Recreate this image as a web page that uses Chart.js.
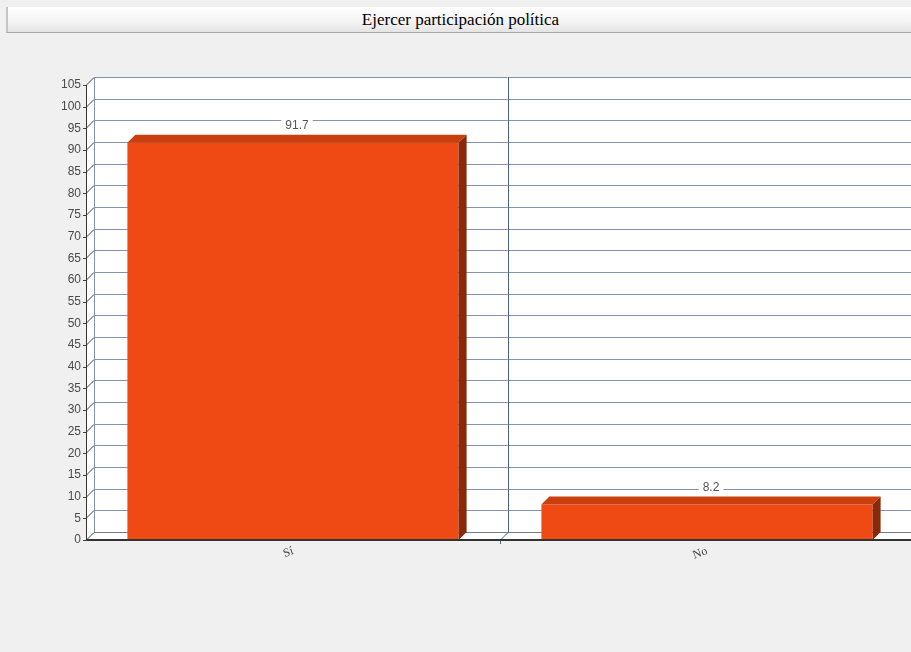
<!DOCTYPE html>
<html>
<head>
<meta charset="utf-8">
<script src="https://cdn.jsdelivr.net/npm/chart.js@4"></script>
<style>
  html, body { margin: 0; padding: 0; background: #f0f0f0; overflow: hidden; }
  #wrap { position: relative; width: 920px; height: 652px; }
  #titlebar {
    position: absolute; left: 6px; top: 7px; width: 905px; height: 25px;
    background: linear-gradient(#ffffff, #f4f4f4 60%, #e4e4e4);
    border-left: 2px solid #c4c4c4; border-bottom: 1px solid #a8a8a8;
    font: 17px "Liberation Serif", serif; color: #000;
    text-align: center; line-height: 25px; z-index: 2;
  }
  #myChart { position: absolute; left: 0; top: 0; }
</style>
</head>
<body>
<div id="wrap">
  <div id="titlebar">Ejercer participación política</div>
  <canvas id="myChart" width="920" height="652"></canvas>
</div>
<script>
"use strict";

// data
var categories = ["Sí", "No"];
var values = [91.7, 8.2];
var yTicks = [0, 5, 10, 15, 20, 25, 30, 35, 40, 45, 50, 55, 60, 65, 70, 75, 80, 85, 90, 95, 100, 105];

var DEPTH = 8;

// walls, grid and axes in fake 3D
var wallPlugin = {
    id: "wall3d",
    beforeDatasetsDraw: function (chart) {
        var ctx = chart.ctx;
        var a = chart.chartArea;
        var ys = chart.scales.y;
        var xs = chart.scales.x;
        var L = a.left, R = a.right, T = a.top, B = a.bottom, d = DEPTH;
        ctx.save();
        // white wall + floor
        ctx.fillStyle = "#ffffff";
        ctx.beginPath();
        ctx.moveTo(L, T);
        ctx.lineTo(L + d, T - d);
        ctx.lineTo(R + d, T - d);
        ctx.lineTo(R + d, B - d);
        ctx.lineTo(R, B);
        ctx.lineTo(L, B);
        ctx.closePath();
        ctx.fill();

        // horizontal grid on the back wall
        ctx.lineWidth = 1;
        yTicks.forEach(function (v) {
            var y = Math.round(ys.getPixelForValue(v)) + 0.5;
            ctx.strokeStyle = v === 0 ? "#707a88" : "#8294ab";
            ctx.beginPath();
            ctx.moveTo(L + d, y - d);
            ctx.lineTo(R + d, y - d);
            ctx.stroke();
            // tick + diagonal to the wall
            ctx.strokeStyle = "#404040";
            ctx.beginPath();
            ctx.moveTo(L - 3, y);
            ctx.lineTo(L, y);
            ctx.lineTo(L + d, y - d);
            ctx.stroke();
        });

        // back wall left edge
        ctx.strokeStyle = "#8294ab";
        ctx.beginPath();
        ctx.moveTo(L + d + 0.5, T - d);
        ctx.lineTo(L + d + 0.5, B - d);
        ctx.stroke();

        // category dividers
        ctx.strokeStyle = "#4a6284";
        for (var i = 1; i < categories.length; i++) {
            var xm = Math.round((xs.getPixelForValue(i - 1) + xs.getPixelForValue(i)) / 2) + 0.5;
            ctx.beginPath();
            ctx.moveTo(xm + d, T - d);
            ctx.lineTo(xm + d, B - d);
            ctx.lineTo(xm, B);
            ctx.lineTo(xm, B + 4);
            ctx.stroke();
        }

        // front axes
        ctx.strokeStyle = "#333333";
        ctx.beginPath();
        ctx.moveTo(L + 0.5, T);
        ctx.lineTo(L + 0.5, B);
        ctx.stroke();
        ctx.lineWidth = 2;
        ctx.beginPath();
        ctx.moveTo(L, B);
        ctx.lineTo(R + d, B);
        ctx.stroke();
        ctx.restore();
    },
    afterDatasetsDraw: function (chart) {
        var ctx = chart.ctx;
        var d = DEPTH;
        var meta = chart.getDatasetMeta(0);
        ctx.save();
        meta.data.forEach(function (bar, i) {
            var x0 = bar.x - bar.width / 2;
            var x1 = bar.x + bar.width / 2;
            var y = bar.y, base = bar.base;
            // top face
            ctx.fillStyle = "#c93f0d";
            ctx.beginPath();
            ctx.moveTo(x0, y);
            ctx.lineTo(x0 + d, y - d);
            ctx.lineTo(x1 + d, y - d);
            ctx.lineTo(x1, y);
            ctx.closePath();
            ctx.fill();
            // side face
            ctx.fillStyle = "#88290a";
            ctx.beginPath();
            ctx.moveTo(x1, y);
            ctx.lineTo(x1 + d, y - d);
            ctx.lineTo(x1 + d, base - d);
            ctx.lineTo(x1, base);
            ctx.closePath();
            ctx.fill();

            // value label with white box
            var txt = String(values[i]);
            ctx.font = "12px 'Liberation Sans', sans-serif";
            var w = ctx.measureText(txt).width;
            var cx = bar.x + 4, cy = y - d - 9;
            ctx.fillStyle = "#ffffff";
            ctx.fillRect(cx - w / 2 - 4, cy - 7, w + 8, 14);
            ctx.fillStyle = "#555555";
            ctx.textAlign = "center";
            ctx.textBaseline = "middle";
            ctx.fillText(txt, cx, cy);
        });
        // redraw front bottom axis over the bars
        ctx.strokeStyle = "#333333";
        ctx.lineWidth = 2;
        ctx.beginPath();
        ctx.moveTo(chart.chartArea.left, chart.chartArea.bottom);
        ctx.lineTo(chart.chartArea.right + d, chart.chartArea.bottom);
        ctx.stroke();
        ctx.restore();
    }
};

var ctx = document.getElementById("myChart").getContext("2d");
var chart = new Chart(ctx, {
    type: "bar",
    data: {
        labels: categories,
        datasets: [{
            data: values,
            backgroundColor: "#ef4a13",
            borderWidth: 0,
            categoryPercentage: 0.8,
            barPercentage: 1.0
        }]
    },
    options: {
        responsive: false,
        animation: false,
        layout: { padding: { top: 85, right: 6, left: 0, bottom: 0 } },
        plugins: {
            legend: { display: false },
            tooltip: { enabled: false }
        },
        scales: {
            y: {
                min: 0,
                max: 105,
                afterFit: function (scale) { scale.width = 86; },
                afterBuildTicks: function (scale) {
                    scale.ticks = yTicks.map(function (v) { return { value: v }; });
                },
                grid: { display: false, drawTicks: false },
                border: { display: false },
                ticks: {
                    padding: 5,
                    color: "#4a4a4a",
                    font: { family: "'Liberation Sans', sans-serif", size: 12 }
                }
            },
            x: {
                afterFit: function (scale) { scale.height = 112; },
                grid: { display: false, drawTicks: false },
                border: { display: false },
                ticks: {
                    autoSkip: false,
                    minRotation: 20,
                    maxRotation: 20,
                    padding: 4,
                    color: "#444444",
                    font: { family: "'Liberation Serif', serif", size: 12 }
                }
            }
        }
    },
    plugins: [wallPlugin]
});
</script>
</body>
</html>
